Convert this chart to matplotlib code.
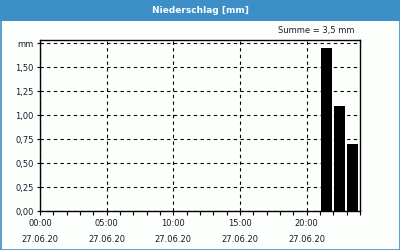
import matplotlib
matplotlib.use("Agg")
import matplotlib.pyplot as plt
from matplotlib.patches import Rectangle
import numpy as np

# Data
hours = [21, 22, 23]                 # start hour of each bar
values = [1.7, 1.1, 0.7]             # precipitation mm
xtick_hours = [0, 5, 10, 15, 20]
xtick_labels = ["00:00\n27.06.20", "05:00\n27.06.20", "10:00\n27.06.20",
                "15:00\n27.06.20", "20:00\n27.06.20"]
ytick_vals = [0, 0.25, 0.5, 0.75, 1.0, 1.25, 1.5, 1.75]
ytick_labels = ["0,00", "0,25", "0,50", "0,75", "1,00", "1,25", "1,50", "mm"]
title = "Niederschlag [mm]"
summe = "Summe = 3,5 mm"

BLUE = "#3b8fc6"
TXT = "#1a1a2a"

plt.rcParams['font.family'] = ['DejaVu Sans']

fig = plt.figure(figsize=(4, 2.5), dpi=100, facecolor="#fcfffc")

# title bar and border
fig.patches.append(Rectangle((0, 1 - 21/250), 1, 21/250, transform=fig.transFigure,
                             facecolor=BLUE, edgecolor="none", zorder=0))
fig.patches.append(Rectangle((0.5/400, 0.5/250), 399/400, 249/250, transform=fig.transFigure,
                             facecolor="none", edgecolor=BLUE, linewidth=1.2, zorder=5))
fig.text(0.5, 1 - 10.5/250, title, color="white", fontsize=6.5, fontweight="bold",
         ha="center", va="center")
fig.text(355/400, 1 - 30/250, summe, color=TXT, fontsize=6, ha="right", va="center")

ax = fig.add_axes([40/400, 39/250, 320/400, 171/250])
ax.set_facecolor("#fcfffc")
ax.bar([h + 0.46 for h in hours], values, width=0.82, color="black", zorder=3)

ax.set_xlim(0, 24)
ax.set_ylim(0, 1.785)
ax.set_xticks(xtick_hours)
ax.set_xticklabels(xtick_labels, fontsize=6, color=TXT, linespacing=2.0)
ax.set_xticks(np.arange(0, 25, 1), minor=True)
ax.set_yticks(ytick_vals)
ax.set_yticklabels(ytick_labels, fontsize=6, color=TXT)
ax.tick_params(axis="x", which="both", length=3, width=0.8, direction="out", pad=3)
ax.tick_params(axis="y", length=2.5, width=0.8, direction="out", pad=2)

ax.grid(True, which="major", color="black", linestyle=(0, (3, 3)), linewidth=0.8, zorder=1)
for s in ax.spines.values():
    s.set_color("black")
    s.set_linewidth(1.0)

fig.savefig("out.png", dpi=100, facecolor=fig.get_facecolor())
